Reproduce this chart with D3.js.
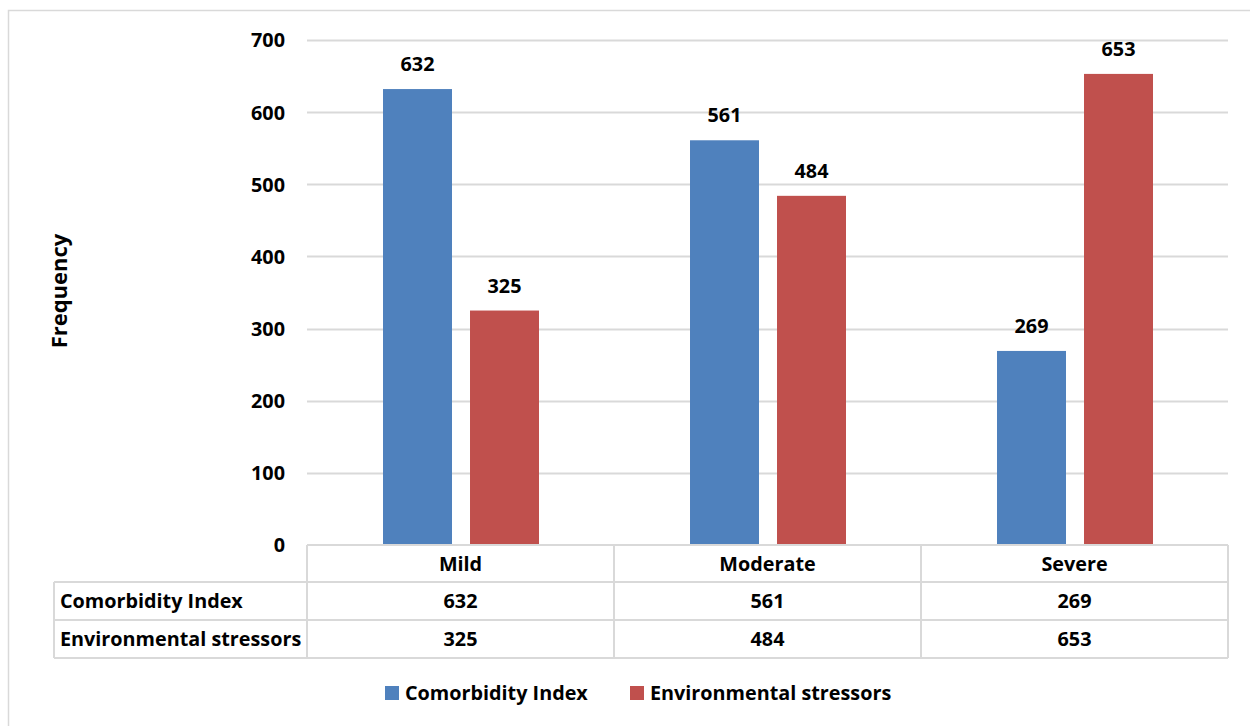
<!DOCTYPE html>
<html>
<head>
<meta charset="utf-8">
<script src="https://cdn.jsdelivr.net/npm/d3@7/dist/d3.min.js"></script>
<style>
  html, body { margin: 0; padding: 0; background: #fff; }
  svg text { font-family: "Open Sans", Lato, sans-serif; font-weight: bold; fill: #000; }
</style>
</head>
<body>
<svg id="chart" width="1250" height="726"></svg>
<script>
// Severity levels and the two series counted in each
const categories = ["Mild", "Moderate", "Severe"];
const seriesNames = ["Comorbidity Index", "Environmental stressors"];
const comorbidityIndex = [632, 561, 269];
const environmentalStressors = [325, 484, 653];
const yTicks = [0, 100, 200, 300, 400, 500, 600, 700];
const colors = ["#4F81BD", "#C0504D"];

const seriesValues = [comorbidityIndex, environmentalStressors];

const svg = d3.select("#chart");
const gridColor = "#d9d9d9";
const fontSize = 19.8;

// Chart-area frame
svg.append("rect")
  .attr("x", 8.5).attr("y", 10.5)
  .attr("width", 1260).attr("height", 730)
  .attr("fill", "none").attr("stroke", gridColor).attr("stroke-width", 1.5);

const plotLeft = 307, plotRight = 1228, plotTop = 40, plotBottom = 545;

const x = d3.scaleBand().domain(categories).range([plotLeft, plotRight]);
// Two bars per category, centred, with a small gap between them
const bw = x.bandwidth();
const xInner = d3.scaleBand().domain(seriesNames)
  .range([bw * 0.2476, bw * 0.7557]).paddingInner(0.207);
const y = d3.scaleLinear().domain([0, 700]).range([plotBottom, plotTop]);

// Horizontal gridlines
svg.append("g").selectAll("line")
  .data(yTicks.filter(d => d > 0))
  .join("line")
  .attr("x1", plotLeft).attr("x2", plotRight)
  .attr("y1", d => Math.round(y(d)) + 0.5).attr("y2", d => Math.round(y(d)) + 0.5)
  .attr("stroke", gridColor).attr("stroke-width", 2);

// Y axis tick labels
const yAxis = d3.axisLeft(y).tickValues(yTicks).tickSize(0).tickPadding(0);
const yg = svg.append("g").attr("transform", "translate(285,0)").call(yAxis);
yg.select(".domain").remove();
yg.selectAll("text")
  .attr("font-size", fontSize).attr("font-family", "'Open Sans', sans-serif").attr("font-weight", "bold")
  .attr("fill", "#000").attr("dy", "0.35em");

// Y axis title
svg.append("text")
  .attr("transform", "translate(67,291) rotate(-90)")
  .attr("text-anchor", "middle")
  .attr("font-size", 22)
  .text("Frequency");

// Bars
const groups = svg.append("g").selectAll("g")
  .data(categories)
  .join("g")
  .attr("transform", d => `translate(${x(d)},0)`);

groups.selectAll("rect")
  .data((c, i) => seriesNames.map((s, k) => ({ s, k, v: seriesValues[k][i] })))
  .join("rect")
  .attr("x", d => xInner(d.s))
  .attr("width", xInner.bandwidth())
  .attr("y", d => y(d.v))
  .attr("height", d => y(0) - y(d.v))
  .attr("fill", d => colors[d.k]);

// Value labels above bars
groups.selectAll("text")
  .data((c, i) => seriesNames.map((s, k) => ({ s, k, v: seriesValues[k][i] })))
  .join("text")
  .attr("x", d => xInner(d.s) + xInner.bandwidth() / 2)
  .attr("y", d => y(d.v) - 18)
  .attr("text-anchor", "middle")
  .attr("font-size", fontSize)
  .text(d => d.v);

// Data table under the plot
const tableLeft = 54;
const rowEdges = [545, 582, 620, 658];
const table = svg.append("g").attr("stroke", gridColor).attr("stroke-width", 2);

// Horizontal rules
table.append("line").attr("x1", plotLeft).attr("x2", plotRight)
  .attr("y1", rowEdges[0]).attr("y2", rowEdges[0]);
rowEdges.slice(1).forEach(yy => {
  table.append("line").attr("x1", tableLeft).attr("x2", plotRight)
    .attr("y1", yy).attr("y2", yy);
});
// Vertical rules
table.append("line").attr("x1", tableLeft).attr("x2", tableLeft)
  .attr("y1", rowEdges[1]).attr("y2", rowEdges[3]);
[plotLeft, ...categories.map(c => x(c) + x.bandwidth())].forEach(xx => {
  table.append("line").attr("x1", xx).attr("x2", xx)
    .attr("y1", rowEdges[0]).attr("y2", rowEdges[3]);
});

// Header row: category names
svg.append("g").selectAll("text")
  .data(categories)
  .join("text")
  .attr("x", d => x(d) + x.bandwidth() / 2)
  .attr("y", (rowEdges[0] + rowEdges[1]) / 2)
  .attr("dy", "0.36em")
  .attr("text-anchor", "middle")
  .attr("font-size", fontSize)
  .text(d => d);

// Series rows
seriesNames.forEach((name, k) => {
  const cy = (rowEdges[k + 1] + rowEdges[k + 2]) / 2;
  svg.append("text")
    .attr("x", tableLeft + 6).attr("y", cy).attr("dy", "0.36em")
    .attr("font-size", fontSize)
    .text(name);
  svg.append("g").selectAll("text")
    .data(categories)
    .join("text")
    .attr("x", d => x(d) + x.bandwidth() / 2)
    .attr("y", cy).attr("dy", "0.36em")
    .attr("text-anchor", "middle")
    .attr("font-size", fontSize)
    .text((d, i) => seriesValues[k][i]);
});

// Legend
const legendItems = [
  { name: seriesNames[0], color: colors[0], x: 385 },
  { name: seriesNames[1], color: colors[1], x: 630 }
];
const legend = svg.append("g");
legendItems.forEach(item => {
  legend.append("rect")
    .attr("x", item.x).attr("y", 686).attr("width", 14).attr("height", 14)
    .attr("fill", item.color);
  legend.append("text")
    .attr("x", item.x + 20).attr("y", 693).attr("dy", "0.36em")
    .attr("font-size", fontSize)
    .text(item.name);
});
</script>
</body>
</html>
